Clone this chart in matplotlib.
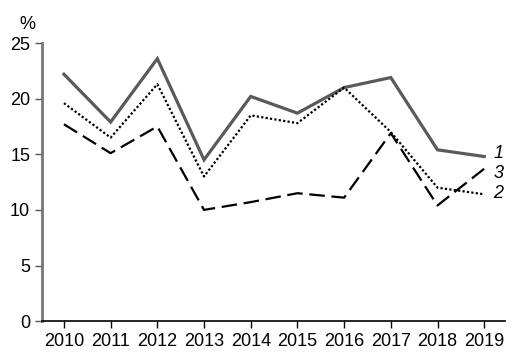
import numpy as np
import matplotlib
matplotlib.use("Agg")
import matplotlib.pyplot as plt

# data
years = [2010, 2011, 2012, 2013, 2014, 2015, 2016, 2017, 2018, 2019]
series1 = [22.2, 17.9, 23.6, 14.5, 20.2, 18.7, 21.0, 21.9, 15.4, 14.8]
series2 = [19.6, 16.5, 21.3, 13.0, 18.5, 17.8, 21.0, 17.0, 12.0, 11.4]
series3 = [17.7, 15.1, 17.5, 10.0, 10.7, 11.5, 11.1, 16.9, 10.4, 13.7]
labels = ["1", "2", "3"]
yticks = [0, 5, 10, 15, 20, 25]

plt.rcParams['font.family'] = ['Liberation Sans', 'DejaVu Sans']

fig = plt.figure(figsize=(5.17, 3.56), dpi=100)
ax = fig.add_axes([0.0812, 0.098, 0.896, 0.781])

ax.plot(years, series1, color='#5a5a5a', lw=2.3, solid_joinstyle='miter')
ax.plot(years, series2, color='black', lw=1.6, linestyle=(0, (1, 1)))
ax.plot(years, series3, color='black', lw=1.6, linestyle=(0, (7, 3)))

# end labels, nudged apart as in the original
ax.text(2019.2, series1[-1] + 0.3, labels[0], fontsize=13, style='italic', va='center')
ax.text(2019.2, series2[-1] + 0.1, labels[1], fontsize=13, style='italic', va='center')
ax.text(2019.2, series3[-1] - 0.4, labels[2], fontsize=13, style='italic', va='center')

ax.set_xlim(2009.53, 2019.45)
ax.set_ylim(0, 25)
ax.set_xticks(years)
ax.set_yticks(yticks)
ax.tick_params(labelsize=13, length=5, width=1)
ax.tick_params(axis='y', color='#555555')

ax.spines['top'].set_visible(False)
ax.spines['right'].set_visible(False)
ax.spines['left'].set_color('#777777')
ax.spines['left'].set_linewidth(2)
ax.spines['bottom'].set_linewidth(1.2)

fig.text(0.037, 0.93, "%", fontsize=13, ha='left', va='center')

fig.savefig("out.png", dpi=100)
